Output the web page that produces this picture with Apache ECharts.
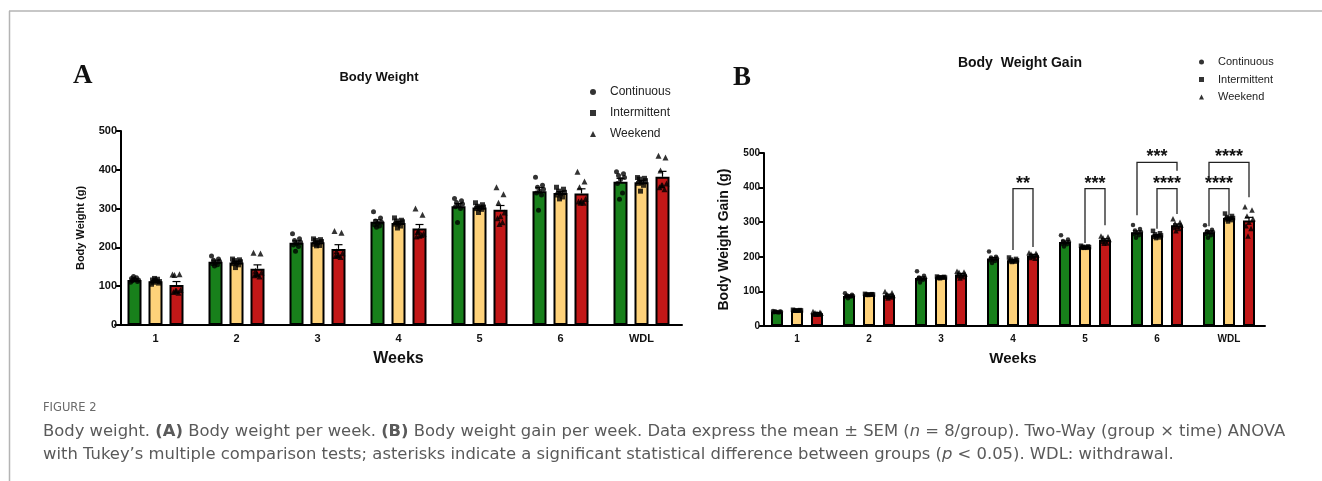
<!DOCTYPE html>
<html><head><meta charset="utf-8">
<script src="https://cdn.jsdelivr.net/npm/echarts@6/dist/echarts.min.js"></script>
<style>html,body{margin:0;padding:0;background:#fff}#c{width:1322px;height:481px}</style>
</head><body><div id="c"></div><script>
// ---------- data ----------
const weeks = ['1','2','3','4','5','6','WDL'];
const groups = ['Continuous','Intermittent','Weekend'];
const yTicksA = [0,100,200,300,400,500];

// Panel A: Body weight (g), means and SEM
const bwMeanCont  = [116,163,212,266,306,345,369];
const bwMeanInt   = [113,161,213,263,303,340,368];
const bwMeanWeek  = [103,145,196,249,297,339,382];
const bwSemCont   = [3,4,5,5,7,9,9];
const bwSemInt    = [2,3,3,3,3,4,4];
const bwSemWeek   = [9,10,11,10,11,12,14];
// individual animals (8 per group) per week
const bwDotsCont = [
  [110,112,114,116,118,120,122,125],[178,170,167,164,160,158,155,152],[235,222,218,214,210,206,202,190],
  [292,276,268,265,262,258,255,252],[326,320,316,312,308,305,300,264],[381,360,355,350,345,340,335,296],
  [395,390,385,380,375,365,340,324]];
const bwDotsInt = [
  [105,108,110,112,114,116,118,120],[170,168,166,163,160,158,155,148],[222,220,218,215,212,208,205,204],
  [276,270,268,266,262,260,255,250],[315,310,306,304,302,300,298,290],[355,350,345,342,338,335,330,325],
  [380,378,376,372,368,365,360,345]];
const bwDotsWeek = [
  [130,131,129,90,88,85,83,88],[186,184,140,135,130,128,125,132],[242,238,190,185,180,178,175,180],
  [300,284,240,235,230,228,232,243],[355,337,315,290,280,275,265,260],[395,370,355,325,320,318,315,315],
  [436,432,398,365,360,355,350,360]];

// Panel B: Body weight gain (g)
const bgMeanCont  = [41,87,139,195,243,271,271];
const bgMeanInt   = [45,91,141,190,228,262,312];
const bgMeanWeek  = [37,89,149,204,249,291,305];
const bgSemCont   = [1,2,3,3,3,4,4];
const bgSemInt    = [1,1,1,2,1,2,3];
const bgSemWeek   = [2,3,3,3,3,4,9];
const bgDotsCont = [
  [43,42,42,41,40,40,39,41],[95,90,88,87,86,85,85,80],[158,145,140,138,136,135,134,126],
  [215,200,198,195,192,190,188,182],[262,250,246,243,240,238,236,230],[292,280,276,272,268,265,262,255],
  [291,278,274,272,270,266,262,255]];
const bgDotsInt = [
  [47,46,45,45,44,44,45,44],[93,92,91,91,90,90,91,90],[143,142,141,140,140,139,141,138],
  [198,194,192,190,188,187,186,185],[232,230,229,228,227,226,226,226],[275,268,265,262,260,258,256,254],
  [325,318,315,312,310,308,306,302]];
const bgDotsWeek = [
  [42,40,38,37,36,35,34,34],[100,96,92,88,86,85,84,81],[158,156,155,150,147,145,142,139],
  [212,210,208,205,200,198,196,203],[260,258,255,250,246,244,240,239],[310,300,296,292,288,285,282,275],
  [345,335,318,310,300,290,282,260]];

// Significance brackets (panel B)
const brkWeek  = [3,4,5,5,6,6];
const brkFrom  = [1,1,0,1,0,0];
const brkTo    = [2,2,2,2,1,2];
const brkTop   = [397,397,473,397,397,473];
const brkLeftEnd  = [220,240,320,281,288,423];
const brkRightEnd = [228,291,449,324,320,372];
const brkLabel = ['**','***','***','****','****','****'];

// ---------- style ----------
const colors = ['#18801b','#fed27a','#c21818'];
const shapes = ['circle','rect','triangle'];
const jitter = [-4,3,-2,4,0,-3,2,-1];
const FONT = 'Liberation Sans, Arial, sans-serif';
const CAP = 'DejaVu Sans, sans-serif';

const chart = echarts.init(document.getElementById('c'));

function makePanel(gi, means, sems, dots, barW, pitch, dotSize) {
  const s = [];
  means.forEach((m, k) => {
    s.push({
      type:'bar', name: groups[k]+' mean', xAxisIndex:gi, yAxisIndex:gi,
      data: m, barWidth: barW, barGap: ((pitch-barW)/barW*100)+'%',
      itemStyle:{color:colors[k], borderColor:'#000', borderWidth:2},
      z:2, silent:true
    });
  });
  means.forEach((m, k) => {
    const off = (k-1)*pitch;
    s.push({
      type:'custom', name: groups[k]+' sem', xAxisIndex:gi, yAxisIndex:gi, z:3, silent:true,
      data: m.map((v,i)=>[i, v, sems[k][i]]),
      renderItem:(params, api)=>{
        const b = api.coord([api.value(0), api.value(1)]);
        const t = api.coord([api.value(0), api.value(1)+api.value(2)]);
        const x = b[0]+off;
        return {type:'group', children:[
          {type:'line', shape:{x1:x,y1:b[1],x2:x,y2:t[1]}, style:{stroke:'#000',lineWidth:1.2}},
          {type:'line', shape:{x1:x-4,y1:t[1],x2:x+4,y2:t[1]}, style:{stroke:'#000',lineWidth:1.2}}
        ]};
      }
    });
  });
  dots.forEach((d, k) => {
    const off = (k-1)*pitch;
    const data = [];
    d.forEach((arr, i) => arr.forEach((v, j) => data.push({value:[i, v], symbolOffset:[off+jitter[j], 0]})));
    s.push({
      type:'scatter', name: groups[k], xAxisIndex:gi, yAxisIndex:gi, z:4, silent:true,
      symbol: shapes[k], symbolSize: k===2 ? dotSize+1 : dotSize,
      itemStyle:{color:'#000'}, data
    });
  });
  return s;
}

const series = [
  ...makePanel(0, [bwMeanCont,bwMeanInt,bwMeanWeek], [bwSemCont,bwSemInt,bwSemWeek], [bwDotsCont,bwDotsInt,bwDotsWeek], 14, 21, 5),
  ...makePanel(1, [bgMeanCont,bgMeanInt,bgMeanWeek], [bgSemCont,bgSemInt,bgSemWeek], [bgDotsCont,bgDotsInt,bgDotsWeek], 12, 20, 4.5),
  {
    type:'custom', name:'brackets', xAxisIndex:1, yAxisIndex:1, z:5, silent:true,
    data: brkWeek.map((w,i)=>[w, brkFrom[i], brkTo[i], brkTop[i], brkLeftEnd[i], brkRightEnd[i], i]),
    renderItem:(params, api)=>{
      const w = api.value(0);
      const i = api.value(6);
      const top = api.coord([w, api.value(3)]);
      const le = api.coord([w, api.value(4)]);
      const re = api.coord([w, api.value(5)]);
      const xl = top[0] + (api.value(1)-1)*20;
      const xr = top[0] + (api.value(2)-1)*20;
      return {type:'group', children:[
        {type:'polyline', shape:{points:[[xl,le[1]],[xl,top[1]],[xr,top[1]],[xr,re[1]]]},
         style:{stroke:'#222', lineWidth:1.3, fill:null}},
        {type:'text', style:{x:(xl+xr)/2, y:top[1]+4, text:brkLabel[i], align:'center', verticalAlign:'bottom',
          font:'bold 18px '+FONT, fill:'#111'}}
      ]};
    }
  }
];

function yAxisCfg(gi, name, nameSize, nameGap, labelSize, off) {
  return {
    type:'value', gridIndex:gi, min:yTicksA[0], max:yTicksA[yTicksA.length-1], interval:100, offset:off,
    name, nameLocation:'middle', nameGap, nameRotate:90,
    nameTextStyle:{fontFamily:FONT, fontWeight:'bold', fontSize:nameSize, color:'#111'},
    axisLine:{show:true, lineStyle:{color:'#000', width:2}},
    axisTick:{show:true, length:5, lineStyle:{color:'#000', width:2}},
    axisLabel:{fontFamily:FONT, fontWeight:'bold', fontSize:labelSize, color:'#111', margin:4},
    splitLine:{show:false}
  };
}
function xAxisCfg(gi, nameSize, nameGap, labelSize) {
  return {
    type:'category', gridIndex:gi, data:weeks,
    name:'Weeks', nameLocation:'middle', nameGap,
    nameTextStyle:{fontFamily:FONT, fontWeight:'bold', fontSize:nameSize, color:'#111'},
    axisLine:{lineStyle:{color:'#000', width:2}},
    axisTick:{alignWithLabel:true, length:5, lineStyle:{color:'#000', width:2}},
    axisLabel:{fontFamily:FONT, fontWeight:'bold', fontSize:labelSize, color:'#111', margin:8}
  };
}

const legendData = groups.map((g,k)=>({name:g, icon:shapes[k]}));

chart.setOption({
  animation:false,
  backgroundColor:'#fff',
  grid:[
    {left:115, width:567, top:131, height:194},
    {left:761, width:504, top:153, height:173}
  ],
  xAxis:[xAxisCfg(0, 16, 26, 11), xAxisCfg(1, 15, 25, 10)],
  yAxis:[yAxisCfg(0, 'Body Weight (g)', 11, 35, 11, -6), yAxisCfg(1, 'Body Weight Gain (g)', 14, 33, 10, -3)],
  legend:[
    {orient:'vertical', left:585, top:80, data:legendData, itemWidth:6, itemHeight:6, itemGap:7,
     selectedMode:false, itemStyle:{color:'#000'},
     textStyle:{fontFamily:FONT, fontSize:12, color:'#222', lineHeight:14, padding:[0,0,0,9]}},
    {orient:'vertical', left:1194, top:51, data:legendData, itemWidth:5, itemHeight:5, itemGap:5.5,
     selectedMode:false, itemStyle:{color:'#000'},
     textStyle:{fontFamily:FONT, fontSize:11, color:'#222', lineHeight:12, padding:[0,0,0,9]}}
  ],
  title:[
    {text:'A', left:68, top:58, textStyle:{fontFamily:'Liberation Serif, DejaVu Serif, serif', fontWeight:'bold', fontSize:27, color:'#111'}},
    {text:'B', left:728, top:60, textStyle:{fontFamily:'Liberation Serif, DejaVu Serif, serif', fontWeight:'bold', fontSize:27, color:'#111'}},
    {text:'Body Weight', left:374, top:66, textAlign:'center', textStyle:{fontFamily:FONT, fontWeight:'bold', fontSize:13, color:'#111'}},
    {text:'Body  Weight Gain', left:1015, top:51, textAlign:'center', textStyle:{fontFamily:FONT, fontWeight:'bold', fontSize:14, color:'#111'}},
    {text:'FIGURE 2', left:38, top:397, textStyle:{fontFamily:CAP, fontWeight:'normal', fontSize:11.5, color:'#6a6a6a'}},
    {text:'Body weight. {b|(A)} Body weight per week. {b|(B)} Body weight gain per week. Data express the mean ± SEM ({i|n} = 8/group). Two-Way (group × time) ANOVA\nwith Tukey’s multiple comparison tests; asterisks indicate a significant statistical difference between groups ({i|p} < 0.05). WDL: withdrawal.',
     left:38, top:415,
     textStyle:{fontFamily:CAP, fontWeight:'normal', fontSize:16.4, color:'#5a5a5a', lineHeight:23,
       rich:{b:{fontFamily:CAP, fontSize:16.4, fontWeight:'bold', color:'#5a5a5a', lineHeight:23},
             i:{fontFamily:CAP, fontSize:16.4, fontStyle:'italic', fontWeight:'normal', color:'#5a5a5a', lineHeight:23}}}}
  ],
  graphic:[
    {type:'line', shape:{x1:9,y1:11,x2:1322,y2:11}, style:{stroke:'#b4b4b4', lineWidth:1.5}, silent:true},
    {type:'line', shape:{x1:9.5,y1:11,x2:9.5,y2:481}, style:{stroke:'#b4b4b4', lineWidth:1.5}, silent:true}
  ],
  series
});
</script></body></html>
